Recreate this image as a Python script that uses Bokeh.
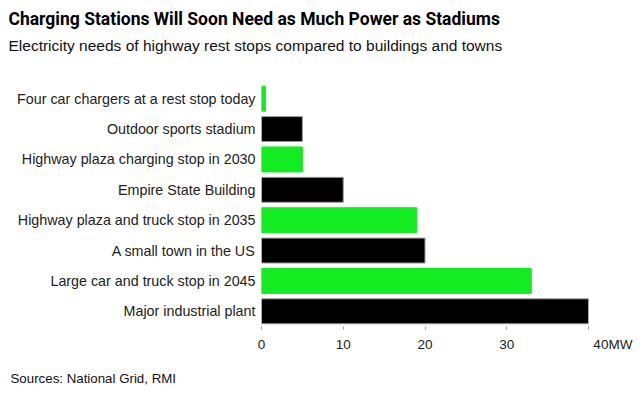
from bokeh.plotting import figure
from bokeh.models import Range1d, FixedTicker, Title, ColumnDataSource
from bokeh.embed import file_html
from bokeh.resources import INLINE

categories = [
    "Four car chargers at a rest stop today",
    "Outdoor sports stadium",
    "Highway plaza charging stop in 2030",
    "Empire State Building",
    "Highway plaza and truck stop in 2035",
    "A small town in the US",
    "Large car and truck stop in 2045",
    "Major industrial plant",
]
values_mw = [0.5, 5, 5, 10, 19, 20, 33, 40]
is_charging = [True, False, True, False, True, False, True, False]
x_ticks = [0, 10, 20, 30, 40]
x_tick_labels = ["0", "10", "20", "30", "40MW"]

GREEN = "#14EC22"
BLACK = "#000000"

n = len(categories)
ypos = [n - 0.5 - i for i in range(n)]
colors = [GREEN if c else BLACK for c in is_charging]
lines = ["#9a9a9a" if not c else GREEN for c in is_charging]

src = ColumnDataSource(dict(y=ypos, v=values_mw, color=colors, line=lines, cat=categories))

W, H = 642, 404
FL, FR, FT, FB = 261, 588, 83, 326
p = figure(width=W, height=H, output_backend="svg", toolbar_location=None,
           x_range=Range1d(0, 40), y_range=Range1d(0, n),
           min_border_left=FL, min_border_right=W - FR, min_border_top=FT,
           min_border_bottom=H - FB)
p.outline_line_color = None
p.grid.grid_line_color = None
p.background_fill_color = "white"
p.border_fill_color = "white"

p.hbar(y="y", left=0, right="v", height=0.82, fill_color="color", line_color="line",
       line_width=1, source=src)

FONT = "Liberation Sans"

pad = "\u00a0" * 13
xa = p.xaxis[0]
xa.ticker = FixedTicker(ticks=x_ticks)
xa.major_label_overrides = {t: (pad + l if i == len(x_ticks) - 1 else l)
                            for i, (t, l) in enumerate(zip(x_ticks, x_tick_labels))}
xa.axis_line_color = None
xa.major_tick_line_color = "#999999"
xa.major_tick_in = 0
xa.major_tick_out = 3
xa.minor_tick_line_color = None
xa.major_label_standoff = 7
xa.major_label_text_font = FONT
xa.major_label_text_font_size = "13.5px"
xa.major_label_text_color = "#222222"

ya = p.yaxis[0]
ya.ticker = FixedTicker(ticks=ypos)
ya.major_label_overrides = {y: c for y, c in zip(ypos, categories)}
ya.axis_line_color = None
ya.major_tick_line_color = None
ya.minor_tick_line_color = None
ya.major_label_standoff = 0
ya.major_label_text_font = FONT
ya.major_label_text_font_size = "14.3px"
ya.major_label_text_color = "#222222"

p.title = None
# spacer between the frame and the subtitle
p.add_layout(Title(text=" ", text_font_size="1px", standoff=27), "above")
p.add_layout(Title(text="Electricity needs of highway rest stops compared to buildings and towns",
                   text_font=FONT, text_font_size="15.5px", text_color="#111111",
                   text_font_style="normal", align="left", offset=8 - FL, standoff=0), "above")
p.add_layout(Title(text="Charging Stations Will Soon Need as Much Power as Stadiums",
                   text_font="Roboto", text_font_style="bold", text_font_size="17.5px",
                   text_color="#000000", align="left", offset=8 - FL, standoff=12), "above")
p.add_layout(Title(text="Sources: National Grid, RMI",
                   text_font=FONT, text_font_size="13.3px", text_color="#111111",
                   text_font_style="normal", align="left", offset=10 - FL, standoff=28), "below")

open("out.html", "w").write(file_html(p, INLINE))
